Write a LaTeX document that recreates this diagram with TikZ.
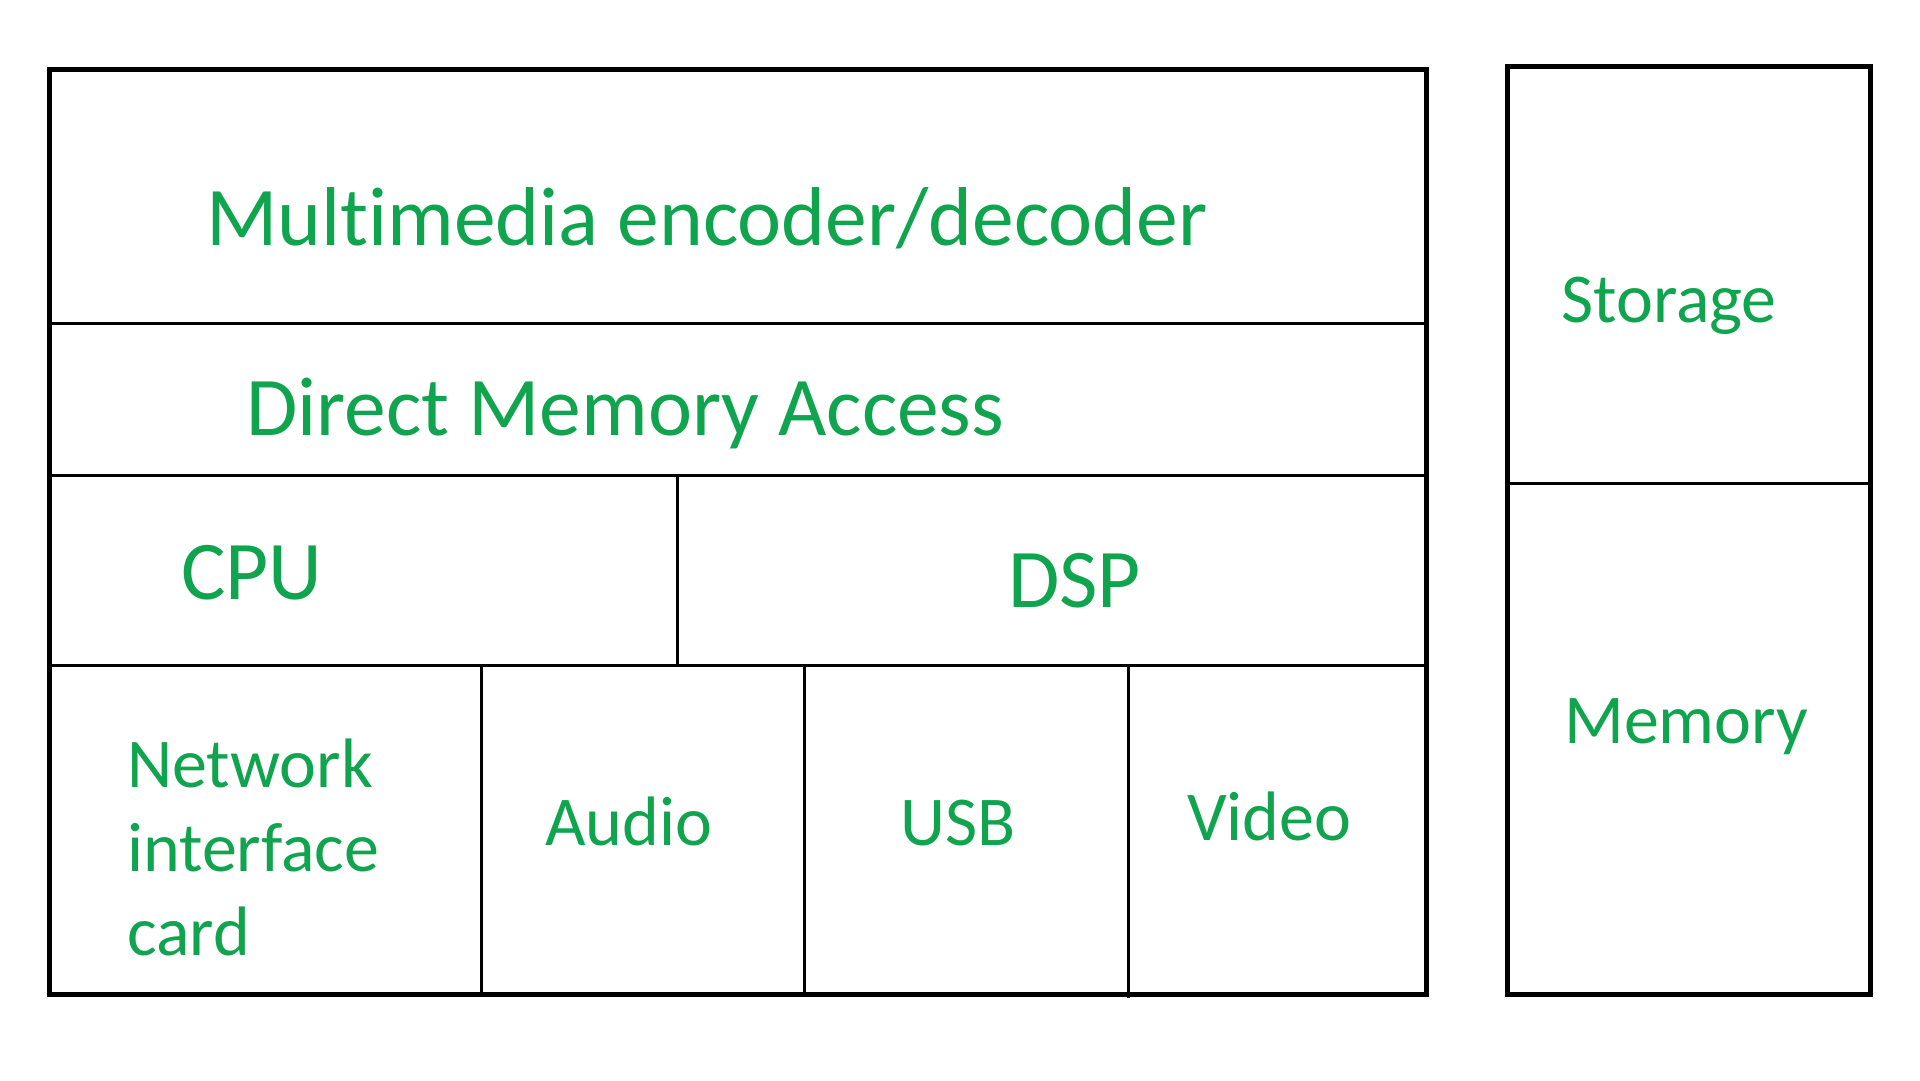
\documentclass[tikz,border=0pt]{standalone}
\usepackage{fontspec}
\setmainfont{Carlito}[Ligatures=NoCommon]
\definecolor{gfg}{RGB}{17,164,79}
\begin{document}
\begin{tikzpicture}[x=1pt,y=-1pt,
  outerline/.style={line width=5pt},
  innerline/.style={line width=3pt},
  lbl/.style={text=gfg, anchor=base west, inner sep=0pt, font=\fontsize{83.5}{100}\selectfont},
  lbls/.style={text=gfg, anchor=base west, inner sep=0pt, align=left, font=\fontsize{70}{84}\selectfont}]
\useasboundingbox[fill=white] (0,0) rectangle (1920,1080);
% main block corners
\coordinate (tl) at (49.5,69.5);
\coordinate (br) at (1426,994.5);
% inner dividers
\draw[innerline] (49.5,323) -- (1426,323);
\draw[innerline] (49.5,475) -- (1426,475);
\draw[innerline] (49.5,665) -- (1426,665);
\draw[innerline] (677,475) -- (677,665);
\draw[innerline] (481,665) -- (481,994.5);
\draw[innerline] (804.5,665) -- (804.5,994.5);
\draw[innerline] (1128,667) -- (1128,998);
\draw[outerline] (tl) rectangle (br);
% right block
\coordinate (rtl) at (1507,66);
\coordinate (rbr) at (1870.5,994);
\draw[innerline] (1507,483) -- (1870.5,483);
\draw[outerline] (rtl) rectangle (rbr);
% labels
\node[lbl] (mm) at (206,245) {Multimedia encoder/decoder};
\node[lbl] (dma) at (246,435) {Direct Memory Access};
\node[lbl] (cpu) at (181,599) {CPU};
\node[lbl] (dsp) at (1008,607) {DSP};
\node[lbls] (nic) at (127,955) {Network\\interface\\card};
\node[lbls] (audio) at (545,845) {Audio};
\node[lbls] (usb) at (900,845) {USB};
\node[lbls] (video) at (1187,840) {Video};
\node[lbls] (storage) at (1561,322) {Storage};
\node[lbls] (memory) at (1564,743) {Memory};
\end{tikzpicture}
\end{document}
